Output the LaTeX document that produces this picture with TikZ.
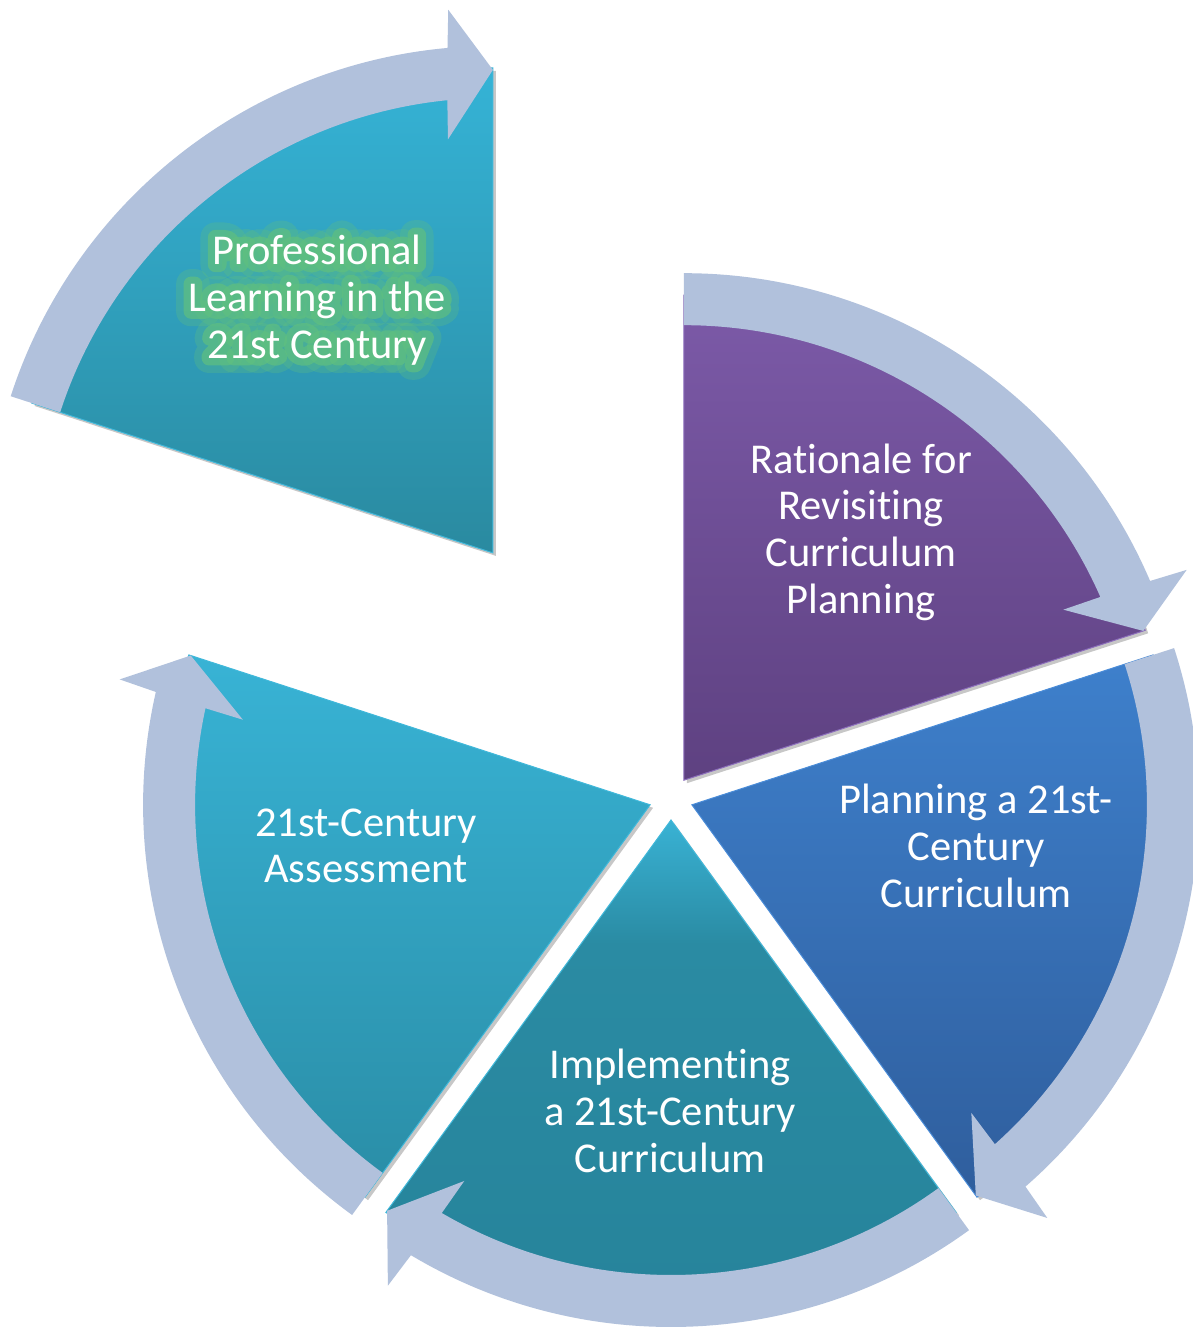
\documentclass[tikz,border=0pt]{standalone}
\usepackage{fontspec}
\setmainfont{Carlito}[Ligatures=NoCommon]
\newfontfamily\glowA{Carlito}[FakeBold=70,Ligatures=NoCommon]
\newfontfamily\glowB{Carlito}[FakeBold=35,Ligatures=NoCommon]
\usetikzlibrary{shadows,calc}

\definecolor{arrowc}{HTML}{B1C1DC}
\definecolor{rattop}{HTML}{7C5AA8}
\definecolor{ratbot}{HTML}{5E4181}
\definecolor{ratedge}{HTML}{8C6EBC}
\definecolor{plantop}{HTML}{3E80CC}
\definecolor{planbot}{HTML}{2F5E9D}
\definecolor{planedge}{HTML}{4A8CD8}
\definecolor{impltop}{HTML}{39B2D4}
\definecolor{implmid}{HTML}{2A8BA3}
\definecolor{implbot}{HTML}{26839A}
\definecolor{asstop}{HTML}{38B3D5}
\definecolor{assbot}{HTML}{2A8DA6}
\definecolor{proftop}{HTML}{35B3D6}
\definecolor{profbot}{HTML}{2A8AA0}
\definecolor{tealedge}{HTML}{40B8DA}
\definecolor{glowc}{HTML}{5FBF80}

\pgfdeclareverticalshading{implshade}{100bp}{color(0bp)=(implbot); color(25bp)=(implbot); color(63bp)=(implmid); color(75bp)=(impltop); color(100bp)=(impltop)}

\newcommand{\pieseg}[4]{%
  \path[#4] (#1) -- ++(#2:485) arc[start angle=#2, end angle=#3, radius=485] -- cycle;}
\newcommand{\cycarrow}[3]{%
  \fill[arrowc, shift={(#1)}] (#2:507) arc[start angle=#2, end angle={#3+5.14}, radius=507]
    -- ({#3+4.7}:545) -- (#3:483) -- ({#3+6.2}:416) -- ({#3+5.75}:455)
    arc[start angle={#3+5.75}, end angle=#2, radius=455] -- cycle;}

\tikzset{
  pieshadow/.style={drop shadow={shadow xshift=3pt, shadow yshift=-3pt, opacity=0.22, fill=black}},
  lbl/.style={text=white, align=center, inner sep=0pt, font=\fontsize{42.5}{46.7}\selectfont},
}

\begin{document}
\begin{tikzpicture}[x=1pt,y=1pt]
\useasboundingbox (0,0) rectangle (1193,1327);
\fill[white] (0,0) rectangle (1193,1327);

% apexes of the five segments
\coordinate (A1) at (683.9,546.8);
\coordinate (A2) at (691.9,522.2);
\coordinate (A3) at (671,507);
\coordinate (A4) at (650.1,522.2);
\coordinate (A5) at (492.9,774.1);

% pie segments
\pieseg{A1}{90}{18}{pieshadow, top color=rattop, bottom color=ratbot, draw=ratedge, line width=1pt}
\pieseg{A2}{18}{-54}{pieshadow, top color=plantop, bottom color=planbot, draw=planedge, line width=1pt}
\pieseg{A3}{-54}{-126}{pieshadow, shading=implshade, draw=tealedge, line width=1pt}
\pieseg{A4}{-126}{-198}{pieshadow, top color=asstop, bottom color=assbot, draw=tealedge, line width=1pt}
\pieseg{A5}{162}{90}{pieshadow, top color=proftop, bottom color=profbot, draw=tealedge, line width=1pt}

% circular arrows
\cycarrow{A1}{90}{18}
\cycarrow{A2}{18}{-54}
\cycarrow{A3}{-54}{-126}
\cycarrow{A4}{-126}{-198}
\cycarrow{A5}{162}{90}

% labels
\node[lbl] (t1) at (861,795) {Rationale for\\Revisiting\\Curriculum\\Planning};
\node[lbl] (t2) at (976,481) {Planning a 21st-\\Century\\Curriculum};
\node[lbl] (t3) at (670,216) {Implementing\\a 21st-Century\\Curriculum};
\node[lbl] (t4) at (366,481) {21st-Century\\Assessment};
\node[lbl, line join=round, miter limit=1, text=glowc, text opacity=0.3, font={\glowA\fontsize{42.5}{46.7}\selectfont}] (t5g1) at (317,1027) {Professional\\Learning in the\\21st Century};
\node[lbl, line join=round, miter limit=1, text=glowc, text opacity=0.7, font={\glowB\fontsize{42.5}{46.7}\selectfont}] (t5g2) at (317,1027) {Professional\\Learning in the\\21st Century};
\node[lbl] (t5) at (317,1027) {Professional\\Learning in the\\21st Century};
\end{tikzpicture}
\end{document}
